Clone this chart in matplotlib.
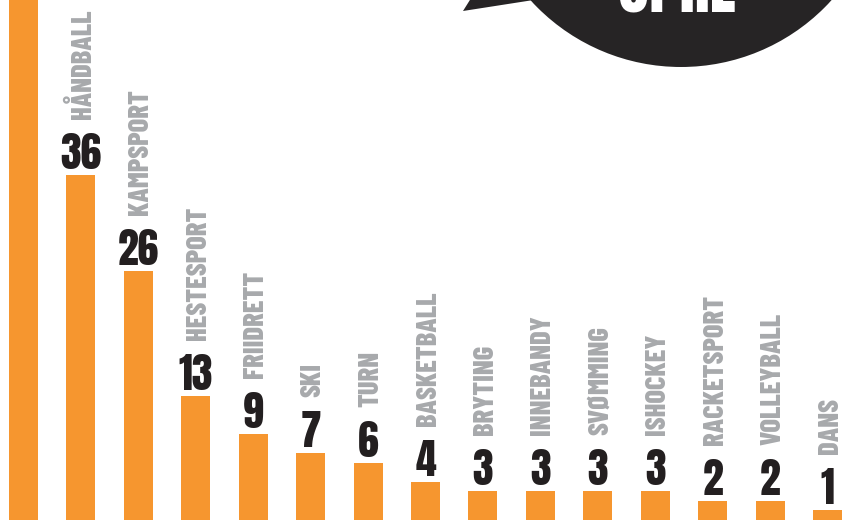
import matplotlib.pyplot as plt
from matplotlib.patches import Ellipse, Polygon

#Sports and number of answers per sport (first bar runs off the top of the picture)
sports = ['FOTBALL', 'HÅNDBALL', 'KAMPSPORT', 'HESTESPORT', 'FRIIDRETT', 'SKI', 'TURN',
          'BASKETBALL', 'BRYTING', 'INNEBANDY', 'SVØMMING', 'ISHOCKEY', 'RACKETSPORT',
          'VOLLEYBALL', 'DANS']
counts = [60, 36, 26, 13, 9, 7, 6, 4, 3, 3, 3, 3, 2, 2, 1]
bubble_text = 'OPRE'

orange = '#F6962F'
grey = '#A7A9AC'
black = '#231F20'
heavy = ['Anton', 'DejaVu Sans']
narrow = ['Barlow Condensed', 'Roboto Condensed', 'DejaVu Sans']

W, H = 842, 520
fig = plt.figure(figsize=(W / 100, H / 100), dpi=100)
ax = fig.add_axes([0, 0, 1, 1])

x = list(range(len(sports)))
ax.bar(x, counts, width=0.505, color=orange)
ax.set_xlim(-0.409, 14.252)
ax.set_ylim(0, 54.3)
ax.axis('off')

#Number just above each bar, sport name written upwards above the number
for i, (name, n) in enumerate(zip(sports, counts)):
    ax.annotate(str(n), xy=(i, n), xytext=(0, 6), textcoords='offset pixels',
                ha='center', va='baseline', fontsize=30, color=black, family=heavy)
    ax.annotate(name, xy=(i, n), xytext=(10, 6 + 37 + 13), textcoords='offset pixels',
                ha='left', va='baseline', rotation=90, rotation_mode='anchor',
                fontsize=20.5, fontweight=800, color=grey, family=narrow)

#Black speech bubble in the top right corner, mostly cut off
cx, cy, r = 681, -136, 203
fig.add_artist(Ellipse((cx / W, 1 - cy / H), 2 * r / W, 2 * r / H,
                       transform=fig.transFigure, color='#262425', lw=0))
tail = [(463, 11), (540, -1), (570, -40), (495, -40)]
fig.add_artist(Polygon([(px / W, 1 - py / H) for px, py in tail],
                       transform=fig.transFigure, color='#262425', lw=0))
fig.text(677 / W, 1 - 12.7 / H, bubble_text, ha='center', va='baseline',
         fontsize=46, color='white', family=heavy)

fig.savefig('out.png', dpi=100)
